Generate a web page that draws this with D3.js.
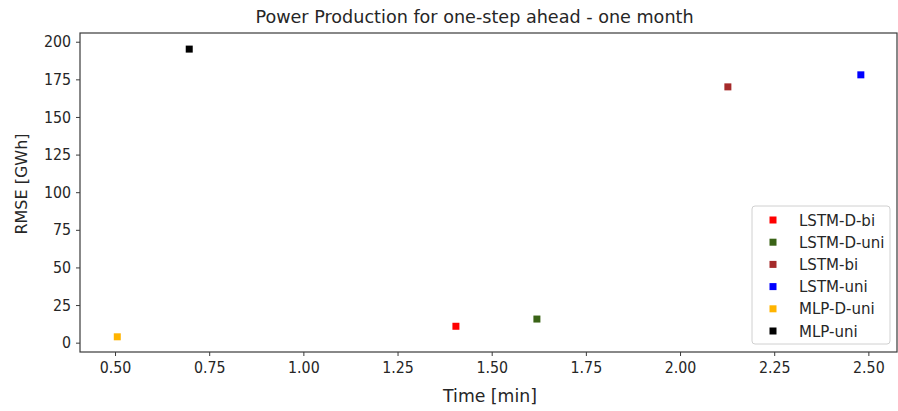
<!DOCTYPE html>
<html><head><meta charset="utf-8">
<script src="https://cdn.jsdelivr.net/npm/d3@7"></script>
<style>
html,body{margin:0;padding:0;background:#fff;}
svg text{font-family:"DejaVu Sans",sans-serif;fill:#262626;}
svg text.cond{font-family:"DejaVu Sans Condensed","DejaVu Sans",sans-serif;font-stretch:condensed;}
</style></head>
<body><svg id="c" width="898" height="411"></svg>
<script>
const models = ["LSTM-D-bi","LSTM-D-uni","LSTM-bi","LSTM-uni","MLP-D-uni","MLP-uni"];
const timeMin = [1.405, 1.62, 2.127, 2.48, 0.506, 0.697];
const rmse = [10.9, 15.7, 170.0, 178.0, 3.9, 195.1];
const colors = ["#FF0000","#3A6316","#A52A2A","#0000FF","#FFB400","#000000"];
const xTicks = [0.50,0.75,1.00,1.25,1.50,1.75,2.00,2.25,2.50];
const yTicks = [0,25,50,75,100,125,150,175,200];
const title = "Power Production for one-step ahead - one month";
const xLabel = "Time [min]";
const yLabel = "RMSE [GWh]";

const svg = d3.select("#c");
const L=80, R=897, T=33, B=352;
const x = d3.scaleLinear().domain([0.407,2.576]).range([L,R]);
const y = d3.scaleLinear().domain([-6.2,205.8]).range([B,T]);

svg.append("rect").attr("x",L).attr("y",T).attr("width",R-L).attr("height",B-T)
  .attr("fill","none").attr("stroke","#3a3a3a").attr("stroke-width",1.2);

const xa = svg.append("g").attr("transform",`translate(0,${B})`)
  .call(d3.axisBottom(x).tickValues(xTicks).tickFormat(d3.format(".2f")).tickSize(4).tickPadding(6));
const ya = svg.append("g").attr("transform",`translate(${L},0)`)
  .call(d3.axisLeft(y).tickValues(yTicks).tickFormat(d3.format("d")).tickSize(4).tickPadding(5));
[xa,ya].forEach(a=>{
  a.select(".domain").remove();
  a.selectAll(".tick line").attr("stroke","#3a3a3a").attr("stroke-width",1);
  a.selectAll(".tick text").attr("class","cond").attr("font-size",15.8).style("font-family",null).attr("fill","#262626");
});

svg.append("text").attr("x",474.5).attr("y",23).attr("text-anchor","middle")
  .attr("font-size",17.6).text(title);
svg.append("text").attr("x",490).attr("y",402).attr("text-anchor","middle")
  .attr("font-size",17.3).text(xLabel);
svg.append("text").attr("transform","translate(27,184) rotate(-90)").attr("text-anchor","middle")
  .attr("font-size",16).text(yLabel);

const ms = 7;
svg.append("g").selectAll("rect").data(models).join("rect")
  .attr("x",(d,i)=>x(timeMin[i])-ms/2).attr("y",(d,i)=>y(rmse[i])-ms/2)
  .attr("width",ms).attr("height",ms).attr("fill",(d,i)=>colors[i]);

const lg = svg.append("g").attr("transform","translate(752,206)");
lg.append("rect").attr("width",138).attr("height",138).attr("rx",3)
  .attr("fill","#fff").attr("fill-opacity",0.85).attr("stroke","#d0d0d0");
models.forEach((m,i)=>{
  const cy = 14 + i*22.2;
  lg.append("rect").attr("x",21-ms/2).attr("y",cy-ms/2).attr("width",ms).attr("height",ms).attr("fill",colors[i]);
  lg.append("text").attr("x",47).attr("y",cy+5.5).attr("font-size",15).text(m);
});
</script></body></html>
